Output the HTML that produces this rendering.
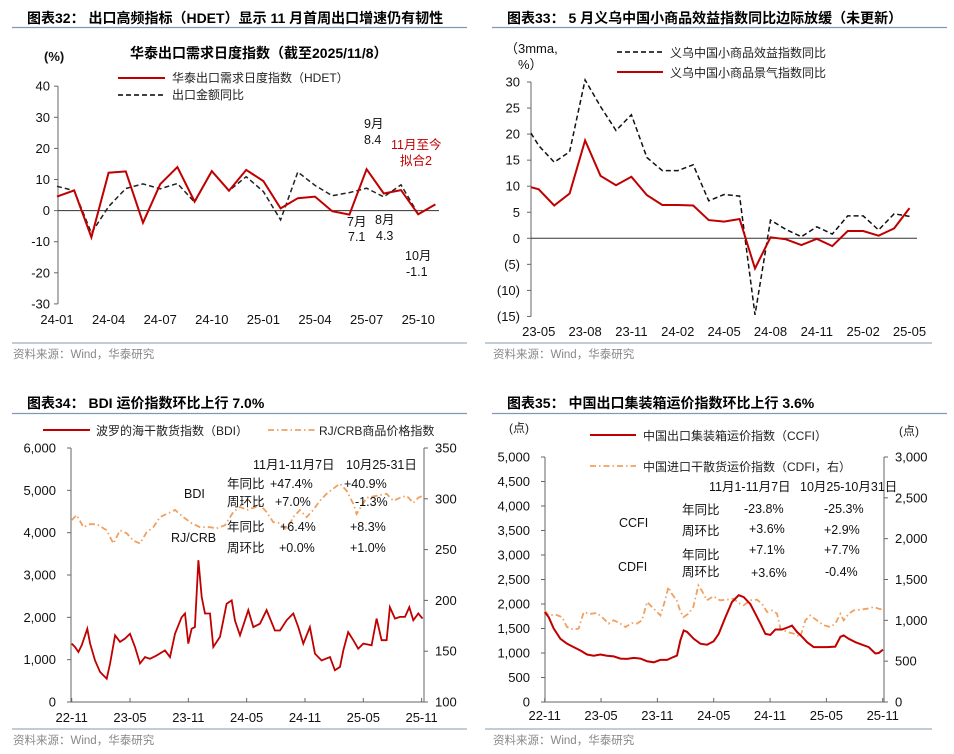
<!DOCTYPE html>
<html><head><meta charset="utf-8">
<style>
body{margin:0;background:#fff;}
svg{display:block;font-family:"Liberation Sans","Noto Sans CJK SC",sans-serif;}
.t{font-size:14px;font-weight:bold;fill:#000;}
.tk{font-size:13px;fill:#111;}
.an{font-size:12.5px;fill:#111;}
.src{font-size:11.5px;fill:#888;}
.lg{font-size:12px;fill:#222;}
</style></head>
<body>
<svg id="s" width="954" height="754" viewBox="0 0 954 754">
<!-- Panel 1 -->
<g>
<text class="t" x="27" y="23">图表32：  出口高频指标（HDET）显示 11 月首周出口增速仍有韧性</text>
<line x1="12" y1="27.5" x2="467" y2="27.5" stroke="#7f98b3" stroke-width="1.2"/>
<text class="t" x="130" y="58">华泰出口需求日度指数（截至2025/11/8）</text>
<text class="tk" x="44" y="61" font-weight="bold">(%)</text>
<line x1="118" y1="78" x2="165" y2="78" stroke="#c00000" stroke-width="2"/>
<text class="lg" x="172" y="82">华泰出口需求日度指数（HDET）</text>
<line x1="118" y1="95" x2="165" y2="95" stroke="#000" stroke-width="1.5" stroke-dasharray="5,3"/>
<text class="lg" x="172" y="99">出口金额同比</text>
<text class="an" x="364" y="128">9月</text>
<text class="an" x="364" y="144">8.4</text>
<text class="an" x="391" y="149" fill="#c00000" style="fill:#c00000">11月至今</text>
<text class="an" x="400" y="165" style="fill:#c00000">拟合2</text>
<text class="an" x="347" y="226">7月</text>
<text class="an" x="348" y="241">7.1</text>
<text class="an" x="375" y="224">8月</text>
<text class="an" x="376" y="240">4.3</text>
<text class="an" x="405" y="260">10月</text>
<text class="an" x="406" y="276">-1.1</text>
<line x1="12" y1="343" x2="467" y2="343" stroke="#7f98b3" stroke-width="1"/>
<text class="src" x="13" y="358">资料来源：Wind，华泰研究</text>
</g>
<!-- Panel 2 -->
<g>
<text class="t" x="507" y="23">图表33：  5 月义乌中国小商品效益指数同比边际放缓（未更新）</text>
<line x1="492" y1="27.5" x2="947" y2="27.5" stroke="#7f98b3" stroke-width="1.2"/>
<text class="tk" x="505" y="53">（3mma,</text>
<text class="tk" x="518" y="69">%）</text>
<line x1="617" y1="52" x2="663" y2="52" stroke="#000" stroke-width="1.5" stroke-dasharray="5,3"/>
<text class="lg" x="670" y="57">义乌中国小商品效益指数同比</text>
<line x1="617" y1="72" x2="663" y2="72" stroke="#c00000" stroke-width="2"/>
<text class="lg" x="670" y="77">义乌中国小商品景气指数同比</text>
<line x1="485" y1="343" x2="932" y2="343" stroke="#7f98b3" stroke-width="1"/>
<text class="src" x="493" y="358">资料来源：Wind，华泰研究</text>
</g>
<!-- Panel 3 -->
<g>
<text class="t" x="27" y="408">图表34：  BDI 运价指数环比上行 7.0%</text>
<line x1="12" y1="413.5" x2="467" y2="413.5" stroke="#7f98b3" stroke-width="1.2"/>
<line x1="43" y1="430" x2="90" y2="430" stroke="#c00000" stroke-width="2"/>
<text class="lg" x="96" y="435">波罗的海干散货指数（BDI）</text>
<line x1="268" y1="430" x2="315" y2="430" stroke="#f0a060" stroke-width="1.8" stroke-dasharray="6,3,1.5,3"/>
<text class="lg" x="319" y="435">RJ/CRB商品价格指数</text>
<line x1="12" y1="729" x2="467" y2="729" stroke="#7f98b3" stroke-width="1"/>
<text class="src" x="13" y="744">资料来源：Wind，华泰研究</text>
</g>
<!-- Panel 4 -->
<g>
<text class="t" x="507" y="408">图表35：  中国出口集装箱运价指数环比上行 3.6%</text>
<line x1="492" y1="413.5" x2="947" y2="413.5" stroke="#7f98b3" stroke-width="1.2"/>
<text class="lg" x="509" y="432">(点)</text>
<text class="lg" x="899" y="435">(点)</text>
<line x1="590" y1="435" x2="636" y2="435" stroke="#c00000" stroke-width="2"/>
<text class="lg" x="643" y="440">中国出口集装箱运价指数（CCFI）</text>
<line x1="590" y1="466" x2="636" y2="466" stroke="#f0a060" stroke-width="1.8" stroke-dasharray="6,3,1.5,3"/>
<text class="lg" x="643" y="471">中国进口干散货运价指数（CDFI，右）</text>
<line x1="485" y1="729" x2="932" y2="729" stroke="#7f98b3" stroke-width="1"/>
<text class="src" x="493" y="744">资料来源：Wind，华泰研究</text>
</g>
</svg>
<script>
// ---------- Panel 1 data ----------
const hdetLabels = ["24-01","24-04","24-07","24-10","25-01","25-04","25-07","25-10"];
const hdetTicks = [40,30,20,10,0,-10,-20,-30];
const hdetValues = [4.5,6.5,-8.6,12.2,12.6,-3.9,8.5,14,2.9,12.7,6.4,13.1,9.5,0.7,4,4.5,-0.2,-1.3,13.3,5.5,6.6,-1.2,2];
const exportYoy = [7.8,6.4,-7.2,1.3,7.1,8.6,7,8.7,2.7,12.7,6.4,10.9,6.1,-3,12.4,8.1,4.8,5.8,7.2,4.4,8.3,-1.1];
// ---------- Panel 2 data ----------
const yiwuLabels = ["23-05","23-08","23-11","24-02","24-05","24-08","24-11","25-02","25-05"];
const yiwuTicks = [30,25,20,15,10,5,0,-5,-10,-15];
const yiwuMonths = [0,0.5,1.5,2.5,3.5,4.5,5.5,6.5,7.5,8.5,9.5,10.5,11.5,12.5,13.5,14.5,15.5,16.5,17.5,18.5,19.5,20.5,21.5,22.5,23.5,24.5];
const prosperityYoy = [9.8,9.4,6.3,8.6,18.8,12,10.2,11.8,8.3,6.4,6.4,6.3,3.5,3.2,3.7,-5.8,0.2,-0.2,-1.3,-0.1,-1.5,1.4,1.4,0.5,1.9,5.8];
const benefitYoy = [20.2,17.8,14.6,16.6,30.4,25.3,20.7,23.7,15.5,13,13,14.1,7.2,8.4,8.1,-14.7,3.5,1.7,0.3,2.2,0.8,4.3,4.3,1.6,4.7,4.2];
// ---------- Panel 3 data ----------
const bdiLabels = ["22-11","23-05","23-11","24-05","24-11","25-05","25-11"];
const bdiLeftTicks = [0,1000,2000,3000,4000,5000,6000];
const bdiRightTicks = [100,150,200,250,300,350];
const bdiMonths = [0,0.34,0.69,1.03,1.61,1.89,2.4,2.91,3.6,3.94,4.46,4.97,5.49,6,6.51,7.03,7.54,8.06,8.74,9.6,10.11,10.63,11.31,11.66,12,12.34,12.68,13.03,13.37,13.71,14.23,14.57,15.26,15.94,16.46,16.8,17.31,18.17,18.68,19.37,20.05,20.91,21.43,22.11,22.8,23.31,23.83,24.51,25.03,25.71,26.57,27.08,27.6,27.94,28.45,28.97,29.48,30,30.85,31.37,31.88,32.4,32.74,33.26,33.77,34.29,34.73,35.14,35.66,36.1];
const bdiValues = [1380,1300,1180,1340,1730,1380,985,710,550,900,1575,1420,1500,1610,1300,910,1060,1020,1100,1220,1060,1610,2000,2090,1380,1730,1770,3350,2480,2090,2090,1300,1540,2320,2400,1920,1575,2170,1770,1850,2170,1690,1690,1930,2090,1770,1380,1770,1140,980,1060,750,830,1220,1650,1460,1260,1380,1340,1970,1460,1460,2240,1970,2010,2010,2240,1930,2090,1970];
const crbMonths = [0,0.51,1.2,1.89,2.57,3.6,4.29,4.97,5.66,6.34,7.03,7.71,8.4,9.08,9.77,10.63,11.48,12.34,13.2,14.23,14.91,15.77,16.63,17.31,18,18.68,19.37,20.05,20.74,21.43,22.11,22.8,23.48,24.17,24.86,25.54,26.23,26.91,27.6,28.28,28.97,29.31,29.83,30.34,31.37,32.4,33.09,33.77,34.46,35.14,35.66,36.1];
const crbValues = [279,284,272,275,275,269,256,269,266,259,256,267,272,282,285,289,282,276,272,272,271,274,287,292,289,291,294,287,277,276,269,282,289,282,289,298,305,310,315,308,295,285,293,301,303,305,298,301,303,296,301,303];
// ---------- Panel 4 data ----------
const ccfiLabels = ["22-11","23-05","23-11","24-05","24-11","25-05","25-11"];
const ccfiLeftTicks = [0,500,1000,1500,2000,2500,3000,3500,4000,4500,5000];
const ccfiRightTicks = [0,500,1000,1500,2000,2500,3000];
const ccfiMonths = [0,0.43,0.96,1.67,2.38,3.09,3.8,4.51,5.22,5.93,6.64,7.35,8.06,8.77,9.48,10.2,10.9,11.61,12.32,13.03,13.74,14.09,14.45,14.8,15.16,15.87,16.58,17.29,18,18.53,19.24,19.95,20.66,21.19,21.9,22.44,22.97,23.5,24.03,24.57,25.27,25.98,26.34,26.87,27.41,27.94,28.65,29.36,30.07,30.95,31.49,31.84,32.38,33.09,33.8,34.5,35.21,35.57,36.03];
const ccfiValues = [1836,1730,1500,1290,1190,1120,1050,970,945,970,945,930,885,880,900,885,830,810,860,860,920,950,1260,1460,1430,1290,1190,1170,1240,1390,1730,2040,2180,2140,2000,1800,1600,1390,1370,1480,1480,1530,1560,1430,1330,1220,1120,1120,1120,1130,1330,1360,1290,1220,1170,1120,990,1000,1070];
const cdfiMonths = [0,0.43,1.14,1.85,2.38,3.09,3.62,4.15,4.86,5.57,6.1,6.81,7.35,8.06,8.59,9.3,9.83,10.36,10.9,11.43,12.32,12.82,13.17,13.53,14.06,14.41,14.77,15.3,15.83,16.37,16.72,17.26,17.97,18.67,19.38,20.09,20.8,21.19,21.9,22.61,23.14,23.68,24.21,24.74,25.1,25.81,26.51,27.22,27.75,28.29,28.99,29.7,30.41,30.95,31.49,31.84,32.38,32.91,33.62,34.33,35.04,35.57,36.03];
const cdfiValues = [1122,1060,1070,1040,918,885,900,1100,1080,1090,1040,960,1000,960,918,967,960,1000,1224,1163,1060,1245,1408,1326,1245,1122,1040,1080,1163,1428,1367,1245,1294,1245,1253,1265,1204,1184,1245,1253,1204,1102,1122,1082,898,857,837,796,1000,1061,1000,939,918,959,1080,1000,1080,1122,1130,1143,1163,1143,1130];

const NS = "http://www.w3.org/2000/svg";
const svg = document.getElementById("s");
function mk(tag, attrs, parent){const e=document.createElementNS(NS,tag);for(const k in attrs)e.setAttribute(k,attrs[k]);(parent||svg).appendChild(e);return e;}
function pathD(xs, ys, fx, fy){let d="";for(let i=0;i<ys.length;i++){d+=(i?"L":"M")+fx(xs[i]).toFixed(1)+","+fy(ys[i]).toFixed(1);}return d;}
function txt(x,y,s,cls,anchor){const e=mk("text",{x:x,y:y,class:cls||"tk","text-anchor":anchor||"start"});e.textContent=s;return e;}
function ln(x1,y1,x2,y2,c,w){return mk("line",{x1:x1,y1:y1,x2:x2,y2:y2,stroke:c||"#555","stroke-width":w||1});}
const RED="#c00000", ORG="#f0a060", AX="#666";

// ===== Panel 1 =====
(function(){
  const x0=57, dx=17.2, yZ=210.6, k=3.11;
  const fx=i=>x0+i*dx, fy=v=>yZ-v*k;
  let a=ln(58,fy(40),58,fy(-30),AX);
  
  
  hdetTicks.forEach(v=>{
    const t=ln(54,fy(v),58,fy(v),AX);
    
    
    const l=txt(50,fy(v)+4.5,String(v),"tk","end");
    
    
  });
  const z=ln(58,fy(0),439,fy(0),"#333");
  
  
  hdetLabels.forEach((s,j)=>{
    const l=txt(fx(j*3),324,s,"tk","middle");
    
    
  });
  const idx=exportYoy.map((_,i)=>i);
  const p2=mk("path",{d:pathD(idx,exportYoy,fx,fy),fill:"none",stroke:"#222","stroke-width":1.5,"stroke-dasharray":"5,3"});
  
  
  const idx2=hdetValues.map((_,i)=>i);
  const p1=mk("path",{d:pathD(idx2,hdetValues,fx,fy),fill:"none",stroke:RED,"stroke-width":2});
  
  
})();

// ===== Panel 2 =====
(function(){
  const x0=531, dx=15.45, yZ=238.3, k=5.21;
  const fx=t=>x0+t*dx, fy=v=>yZ-v*k;
  const a=ln(531,fy(30),531,fy(-15),AX);
  
  
  yiwuTicks.forEach(v=>{
    const t=ln(527,fy(v),531,fy(v),AX);
    
    
    const l=txt(520,fy(v)+4.5,v<0?"("+(-v)+")":String(v),"tk","end");
    
    
  });
  const z=ln(531,fy(0),917,fy(0),"#333");
  
  
  yiwuLabels.forEach((s,j)=>{
    const l=txt(fx(j*3+0.5),336,s,"tk","middle");
    
    
  });
  const p2=mk("path",{d:pathD(yiwuMonths,benefitYoy,fx,fy),fill:"none",stroke:"#111","stroke-width":1.5,"stroke-dasharray":"5,3"});
  
  
  const p1=mk("path",{d:pathD(yiwuMonths,prosperityYoy,fx,fy),fill:"none",stroke:RED,"stroke-width":2});
  
  
})();

// ===== Panel 3 =====
(function(){
  const x0=71.7, dx=9.72, yB=702, H=254;
  const fx=t=>x0+t*dx, fyL=v=>yB-v/6000*H, fyR=v=>yB-(v-100)/250*H;
  const a=ln(71,448,71,702,AX);
  
  
  const b=ln(424,448,424,702,AX);
  
  
  const c=ln(71,702,424,702,AX);
  
  
  bdiLeftTicks.forEach(v=>{
    const t=ln(67,fyL(v),71,fyL(v),AX);
    
    
    const l=txt(56,fyL(v)+4.5,v.toLocaleString("en-US"),"tk","end");
    
    
  });
  bdiRightTicks.forEach(v=>{
    const t=ln(424,fyR(v),428,fyR(v),AX);
    
    
    const l=txt(435,fyR(v)+4.5,String(v),"tk","start");
    
    
  });
  bdiLabels.forEach((s,j)=>{
    const t=ln(fx(j*6),698,fx(j*6),702,AX);
    
    
    const l=txt(fx(j*6),722,s,"tk","middle");
    
    
  });
  const p2=mk("path",{d:pathD(crbMonths,crbValues,fx,fyR),fill:"none",stroke:ORG,"stroke-width":1.8,"stroke-dasharray":"6,3,1.5,3"});
  
  
  const p1=mk("path",{d:pathD(bdiMonths,bdiValues,fx,fyL),fill:"none",stroke:RED,"stroke-width":1.8});
  
  
  const anns=[[253,469,"11月1-11月7日"],[346,469,"10月25-31日"],[227,488,"年同比"],[270,488,"+47.4%"],[344,488,"+40.9%"],[227,506,"周环比"],[275,506,"+7.0%"],[355,506,"-1.3%"],[184,498,"BDI"],[171,542,"RJ/CRB"],[227,531,"年同比"],[280,531,"+6.4%"],[350,531,"+8.3%"],[227,552,"周环比"],[279,552,"+0.0%"],[350,552,"+1.0%"]];
  anns.forEach(a=>{
    const l=txt(a[0],a[1],a[2],"an");
    
    
  });
})();

// ===== Panel 4 =====
(function(){
  const x0=544.7, dx=9.39, yB=702, H=245;
  const fx=t=>x0+t*dx, fyL=v=>yB-v/5000*H, fyR=v=>yB-v/3000*H;
  const a=ln(545,457,545,702,AX);
  
  
  const b=ln(884,457,884,702,AX);
  
  
  const c=ln(545,702,884,702,AX);
  
  
  ccfiLeftTicks.forEach(v=>{
    const t=ln(541,fyL(v),545,fyL(v),AX);
    
    
    const l=txt(530,fyL(v)+4.5,v.toLocaleString("en-US"),"tk","end");
    
    
  });
  ccfiRightTicks.forEach(v=>{
    const t=ln(884,fyR(v),888,fyR(v),AX);
    
    
    const l=txt(895,fyR(v)+4.5,v.toLocaleString("en-US"),"tk","start");
    
    
  });
  ccfiLabels.forEach((s,j)=>{
    const t=ln(fx(j*6),698,fx(j*6),702,AX);
    
    
    const l=txt(fx(j*6),720,s,"tk","middle");
    
    
  });
  const p2=mk("path",{d:pathD(cdfiMonths,cdfiValues,fx,fyR),fill:"none",stroke:ORG,"stroke-width":1.8,"stroke-dasharray":"6,3,1.5,3"});
  
  
  const p1=mk("path",{d:pathD(ccfiMonths,ccfiValues,fx,fyL),fill:"none",stroke:RED,"stroke-width":2});
  
  
  const anns=[[709,491,"11月1-11月7日"],[800,491,"10月25-10月31日"],[619,527,"CCFI"],[682,514,"年同比"],[744,513,"-23.8%"],[824,513,"-25.3%"],[682,535,"周环比"],[749,533,"+3.6%"],[824,534,"+2.9%"],[618,571,"CDFI"],[682,559,"年同比"],[749,554,"+7.1%"],[824,554,"+7.7%"],[682,576,"周环比"],[751,577,"+3.6%"],[825,576,"-0.4%"]];
  anns.forEach(a=>{
    const l=txt(a[0],a[1],a[2],"an");
    
    
  });
})();
</script>
</body></html>
